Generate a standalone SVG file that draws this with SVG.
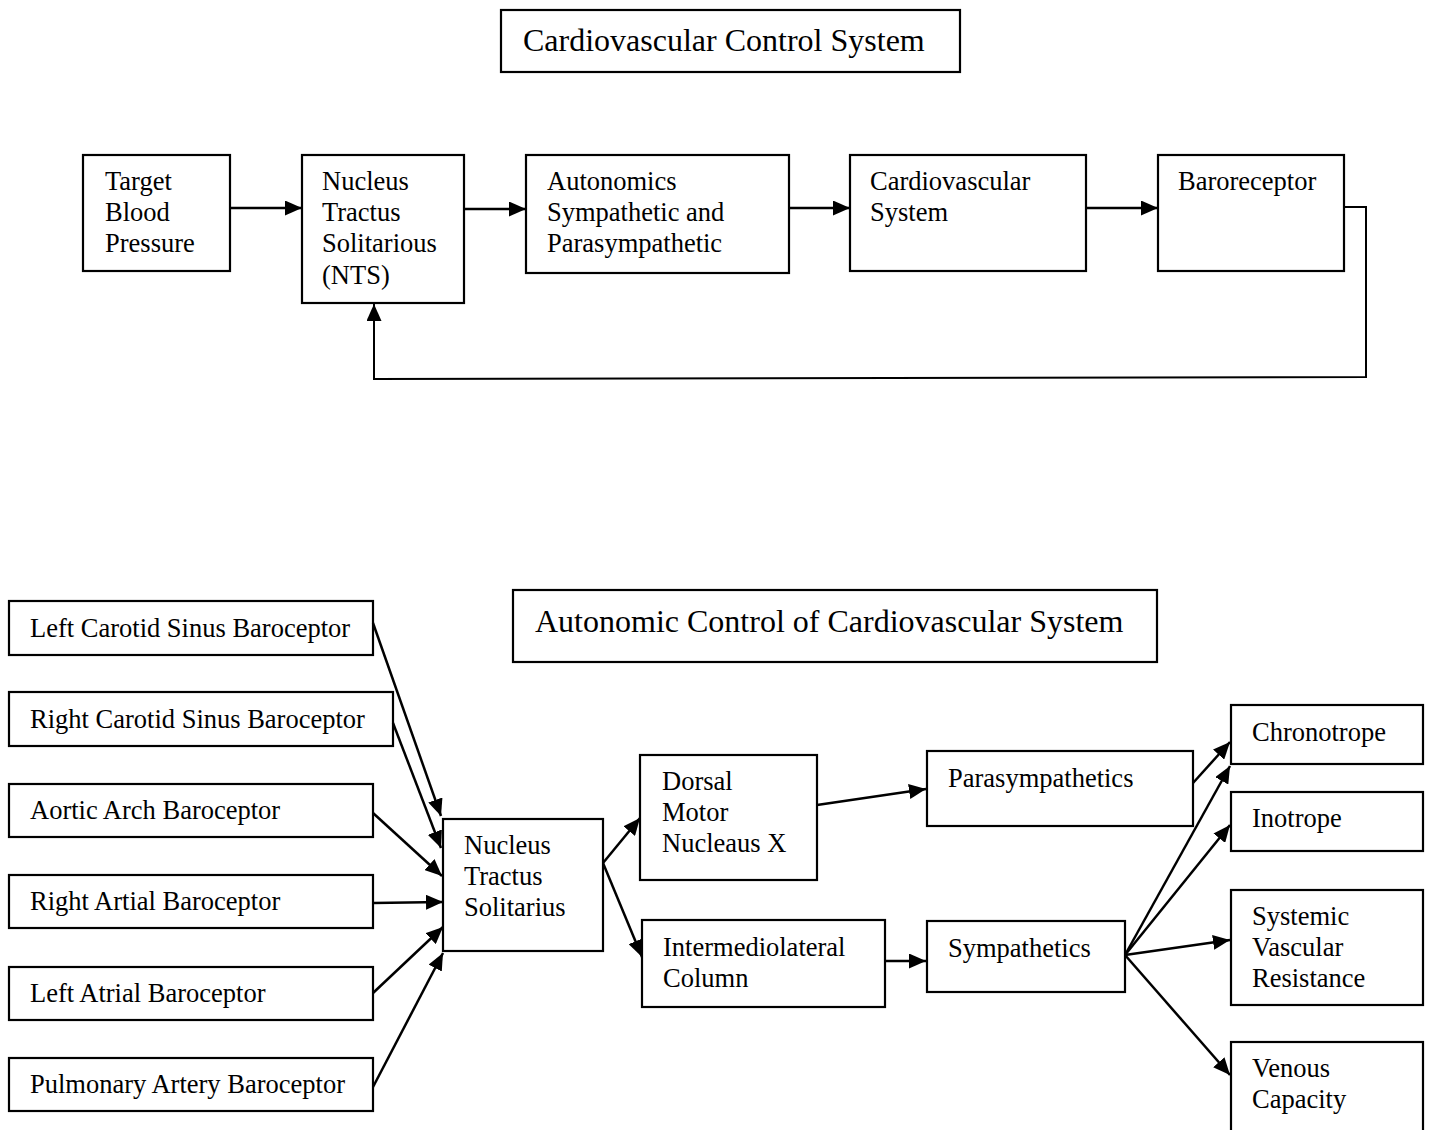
<svg xmlns="http://www.w3.org/2000/svg" width="1431" height="1130" viewBox="0 0 1431 1130">
<style>
.box{fill:#fff;stroke:#000;stroke-width:2.2}
.t{font-family:"Liberation Serif","Times New Roman",serif;font-size:26.5px;fill:#000}
.title{font-family:"Liberation Serif","Times New Roman",serif;font-size:32px;fill:#000}
.c{fill:none;stroke:#000;stroke-width:2.5}
.fb{fill:none;stroke:#000;stroke-width:2}
</style>
<defs>
<marker id="ah" viewBox="0 0 17 15" refX="17" refY="7.5" markerWidth="17" markerHeight="15" markerUnits="userSpaceOnUse" orient="auto">
<path d="M0,0 L17,7.5 L0,15 z" fill="#000"/>
</marker>
</defs>
<rect width="1431" height="1130" fill="#fff"/>

<g id="title1">
<rect class="box" x="501" y="10" width="459" height="62"/>
<text class="title" x="523" y="51">Cardiovascular Control System</text>
</g>

<g id="target">
<rect class="box" x="83" y="155" width="147" height="116"/>
<text class="t" x="105" y="190">Target</text>
<text class="t" x="105" y="221">Blood</text>
<text class="t" x="105" y="252">Pressure</text>
</g>
<g id="nts1">
<rect class="box" x="302" y="155" width="162" height="148"/>
<text class="t" x="322" y="190">Nucleus</text>
<text class="t" x="322" y="221">Tractus</text>
<text class="t" x="322" y="252">Solitarious</text>
<text class="t" x="322" y="284">(NTS)</text>
</g>
<g id="autonomics">
<rect class="box" x="526" y="155" width="263" height="118"/>
<text class="t" x="547" y="190">Autonomics</text>
<text class="t" x="547" y="221">Sympathetic and</text>
<text class="t" x="547" y="252">Parasympathetic</text>
</g>
<g id="cvs">
<rect class="box" x="850" y="155" width="236" height="116"/>
<text class="t" x="870" y="190">Cardiovascular</text>
<text class="t" x="870" y="221">System</text>
</g>
<g id="baro">
<rect class="box" x="1158" y="155" width="186" height="116"/>
<text class="t" x="1178" y="190">Baroreceptor</text>
</g>

<g id="title2">
<rect class="box" x="513" y="590" width="644" height="72"/>
<text class="title" x="535" y="632">Autonomic Control of Cardiovascular System</text>
</g>

<g id="lcs">
<rect class="box" x="9" y="601" width="364" height="54"/>
<text class="t" x="30" y="637">Left Carotid Sinus Baroceptor</text>
</g>
<g id="rcs">
<rect class="box" x="9" y="692" width="384" height="54"/>
<text class="t" x="30" y="728">Right Carotid Sinus Baroceptor</text>
</g>
<g id="aab">
<rect class="box" x="9" y="784" width="364" height="53"/>
<text class="t" x="30" y="819">Aortic Arch Baroceptor</text>
</g>
<g id="rab">
<rect class="box" x="9" y="875" width="364" height="53"/>
<text class="t" x="30" y="910">Right Artial Baroceptor</text>
</g>
<g id="lab">
<rect class="box" x="9" y="967" width="364" height="53"/>
<text class="t" x="30" y="1002">Left Atrial Baroceptor</text>
</g>
<g id="pab">
<rect class="box" x="9" y="1058" width="364" height="53"/>
<text class="t" x="30" y="1093">Pulmonary Artery Baroceptor</text>
</g>

<g id="nts2">
<rect class="box" x="443" y="819" width="160" height="132"/>
<text class="t" x="464" y="854">Nucleus</text>
<text class="t" x="464" y="885">Tractus</text>
<text class="t" x="464" y="916">Solitarius</text>
</g>
<g id="dmnx">
<rect class="box" x="640" y="755" width="177" height="125"/>
<text class="t" x="662" y="790">Dorsal</text>
<text class="t" x="662" y="821">Motor</text>
<text class="t" x="662" y="852">Nucleaus X</text>
</g>
<g id="imlc">
<rect class="box" x="642" y="920" width="243" height="87"/>
<text class="t" x="663" y="956">Intermediolateral</text>
<text class="t" x="663" y="987">Column</text>
</g>
<g id="para">
<rect class="box" x="927" y="751" width="266" height="75"/>
<text class="t" x="948" y="787">Parasympathetics</text>
</g>
<g id="symp">
<rect class="box" x="927" y="921" width="198" height="71"/>
<text class="t" x="948" y="957">Sympathetics</text>
</g>
<g id="chrono">
<rect class="box" x="1231" y="705" width="192" height="59"/>
<text class="t" x="1252" y="741">Chronotrope</text>
</g>
<g id="ino">
<rect class="box" x="1231" y="792" width="192" height="59"/>
<text class="t" x="1252" y="827">Inotrope</text>
</g>
<g id="svr">
<rect class="box" x="1231" y="890" width="192" height="115"/>
<text class="t" x="1252" y="925">Systemic</text>
<text class="t" x="1252" y="956">Vascular</text>
<text class="t" x="1252" y="987">Resistance</text>
</g>
<g id="venous">
<rect class="box" x="1231" y="1042" width="192" height="100"/>
<text class="t" x="1252" y="1077">Venous</text>
<text class="t" x="1252" y="1108">Capacity</text>
</g>

<g id="connectors">
<line class="c" x1="230" y1="208" x2="302" y2="208" marker-end="url(#ah)"/>
<line class="c" x1="464" y1="209" x2="526" y2="209" marker-end="url(#ah)"/>
<line class="c" x1="789" y1="208" x2="850" y2="208" marker-end="url(#ah)"/>
<line class="c" x1="1086" y1="208" x2="1158" y2="208" marker-end="url(#ah)"/>
<polyline class="fb" points="1344,207 1366,207 1366,377 374,379 374,304" marker-end="url(#ah)"/>

<line class="c" x1="373" y1="623" x2="441" y2="816" marker-end="url(#ah)"/>
<line class="c" x1="393" y1="723" x2="441" y2="848" marker-end="url(#ah)"/>
<line class="c" x1="373" y1="813" x2="442" y2="876" marker-end="url(#ah)"/>
<line class="c" x1="373" y1="903" x2="443" y2="902" marker-end="url(#ah)"/>
<line class="c" x1="373" y1="993" x2="443" y2="927" marker-end="url(#ah)"/>
<line class="c" x1="373" y1="1087" x2="443" y2="953" marker-end="url(#ah)"/>

<line class="c" x1="603" y1="863" x2="640" y2="818" marker-end="url(#ah)"/>
<line class="c" x1="603" y1="863" x2="642" y2="957" marker-end="url(#ah)"/>
<line class="c" x1="817" y1="805" x2="926" y2="789" marker-end="url(#ah)"/>
<line class="c" x1="885" y1="961" x2="926" y2="961" marker-end="url(#ah)"/>
<line class="c" x1="1193" y1="783" x2="1230" y2="742" marker-end="url(#ah)"/>
<line class="c" x1="1125" y1="955" x2="1230" y2="766" marker-end="url(#ah)"/>
<line class="c" x1="1125" y1="955" x2="1230" y2="825" marker-end="url(#ah)"/>
<line class="c" x1="1125" y1="955" x2="1230" y2="940" marker-end="url(#ah)"/>
<line class="c" x1="1125" y1="955" x2="1230" y2="1075" marker-end="url(#ah)"/>
</g>
</svg>
